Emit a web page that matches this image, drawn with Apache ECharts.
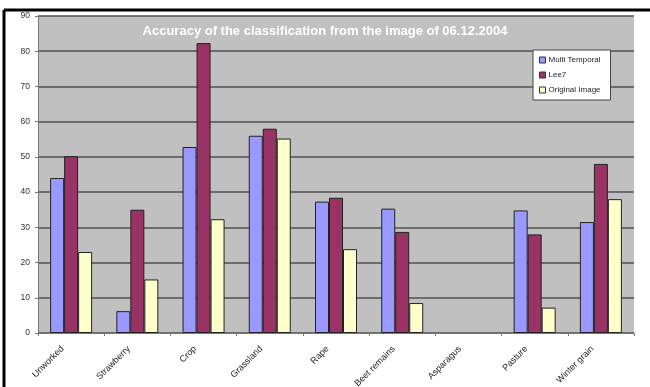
<!DOCTYPE html>
<html>
<head>
<meta charset="utf-8">
<title>Accuracy of the classification</title>
<script src="https://cdn.jsdelivr.net/npm/echarts@6/dist/echarts.min.js"></script>
<style>
  html, body { margin: 0; padding: 0; background: #fff; }
  #main { width: 650px; height: 387px; }
</style>
</head>
<body>
<div id="main"></div>
<script>
var categories = ['Unworked', 'Strawberry', 'Crop', 'Grassland', 'Rape', 'Beet remains', 'Asparagus', 'Pasture', 'Winter grain'];
// Asparagus has no bars in the picture
var multiTemporal = [44, 6.2, 52.8, 56, 37.3, 35.3, null, 34.8, 31.5];
var lee7 = [50.2, 35, 82.3, 58, 38.4, 28.7, null, 28, 48];
var originalImage = [23, 15.2, 32.3, 55.2, 23.8, 8.5, null, 7.2, 38];
var yTicks = [0, 90, 10];   // min, max, interval

var font = 'Liberation Sans, Arial, sans-serif';
var chart = echarts.init(document.getElementById('main'));

function bar(name, data, color) {
  return {
    name: name,
    type: 'bar',
    data: data,
    barWidth: 14,
    barGap: '0%',
    itemStyle: { color: color, borderColor: '#222', borderWidth: 1 },
    emphasis: { disabled: true }
  };
}

chart.setOption({
  animation: false,
  title: {
    text: 'Accuracy of the classification from the image of 06.12.2004',
    left: 'center',
    top: 20,
    textStyle: { color: '#fff', fontSize: 13, fontWeight: 'bold', fontFamily: font }
  },
  legend: {
    orient: 'vertical',
    left: 533,
    top: 50,
    width: 84,
    padding: [6, 10, 6, 6],
    itemGap: 7,
    itemWidth: 6,
    itemHeight: 6,
    backgroundColor: '#fff',
    borderColor: '#444',
    borderWidth: 1,
    borderRadius: 0,
    icon: 'rect',
    itemStyle: { borderColor: '#333', borderWidth: 1 },
    textStyle: { fontSize: 8, color: '#222', fontFamily: font, padding: [0, 0, 0, -2] }
  },
  grid: {
    left: 38,
    right: 16,
    top: 16,
    bottom: 54,
    outerBoundsMode: 'none',
    containLabel: false,
    show: true,
    backgroundColor: '#c0c0c0',
    borderWidth: 0
  },
  xAxis: {
    type: 'category',
    data: categories,
    axisLine: { lineStyle: { color: '#777', width: 1 } },
    axisTick: { show: true, length: 3, lineStyle: { color: '#777' } },
    axisLabel: {
      rotate: 45,
      fontSize: 9,
      color: '#222',
      margin: 6,
      interval: 0,
      padding: [0, 12, 0, 0],
      fontFamily: font
    }
  },
  yAxis: {
    type: 'value',
    min: yTicks[0],
    max: yTicks[1],
    interval: yTicks[2],
    axisLine: { show: true, lineStyle: { color: '#777' } },
    axisTick: { show: true, length: 3, lineStyle: { color: '#777' } },
    axisLabel: { fontSize: 8.5, color: '#333', margin: 8, fontFamily: font },
    splitLine: { lineStyle: { color: '#505050', width: 1.5 } }
  },
  graphic: [
    { type: 'line', shape: { x1: 4, y1: 10, x2: 650, y2: 10 }, style: { stroke: '#000', lineWidth: 3 } },
    { type: 'line', shape: { x1: 4, y1: 10, x2: 4, y2: 387 }, style: { stroke: '#000', lineWidth: 3 } }
  ],
  series: [
    bar('Multi Temporal', multiTemporal, '#9999ff'),
    bar('Lee7', lee7, '#993366'),
    bar('Original Image', originalImage, '#ffffcc')
  ]
});
</script>
</body>
</html>
